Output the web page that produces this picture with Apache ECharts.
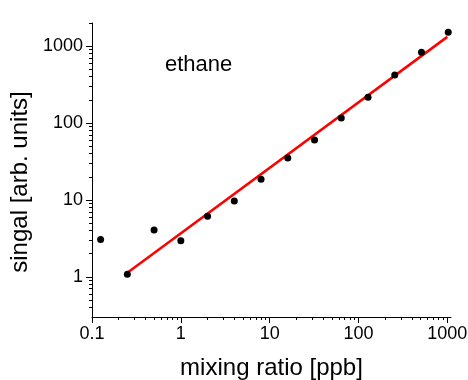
<!DOCTYPE html>
<html>
<head>
<meta charset="utf-8">
<script src="https://cdn.jsdelivr.net/npm/echarts@6/dist/echarts.min.js"></script>
<style>html,body{margin:0;padding:0;background:#fff}#c{width:468px;height:380px}</style>
</head>
<body>
<div id="c"></div>
<script>
// Data
var mixingRatio = [0.125, 0.25, 0.5, 1, 2, 4, 8, 16, 32, 64, 128, 256, 512, 1024];
var signal = [3.06, 1.08, 4.05, 2.94, 6.15, 9.65, 18.6, 35, 60, 116, 217, 420, 836, 1520];
var fitX = [0.25, 1000];
var fitY = [1.13, 1320];
var xMajorTicks = [0.1, 1, 10, 100, 1000];
var yMajorTicks = [1, 10, 100, 1000];
var xMinorTicks = [0.2,0.3,0.4,0.5,0.6,0.7,0.8,0.9,2,3,4,5,6,7,8,9,20,30,40,50,60,70,80,90,200,300,400,500,600,700,800,900];
var yMinorTicks = [0.4,0.5,0.6,0.7,0.8,0.9,2,3,4,5,6,7,8,9,20,30,40,50,60,70,80,90,200,300,400,500,600,700,800,900,2000];
var xRange = [0.1, 1100];
var yRange = [0.3, 2000];

var font = 'Liberation Sans, Arial, sans-serif';
function fmt(v){ return String(+(+v).toPrecision(6)); }

var chart = echarts.init(document.getElementById('c'), null, {renderer: 'canvas'});
var axisLineStyle = {color: '#000', width: 1};
chart.setOption({
  animation: false,
  backgroundColor: '#fff',
  grid: {left: 92, right: 17, top: 23, bottom: 63, outerBoundsMode: 'none'},
  graphic: [{
    type: 'text', left: 165, top: 54,
    style: {text: 'ethane', font: '22px ' + font, fill: '#000'}
  }],
  xAxis: [{
    type: 'log', logBase: 10, min: xRange[0], max: xRange[1],
    name: 'mixing ratio [ppb]', nameLocation: 'middle', nameGap: 39,
    nameTextStyle: {fontSize: 24, fontFamily: font, color: '#000'},
    axisLine: {lineStyle: axisLineStyle},
    axisTick: {show: true, length: 6, lineStyle: {color: '#000'}, customValues: xMajorTicks},
    axisLabel: {fontSize: 18, fontFamily: font, color: '#000', margin: 8, customValues: xMajorTicks, formatter: fmt},
    splitLine: {show: false}, minorTick: {show: false}
  }, {
    type: 'log', logBase: 10, min: xRange[0], max: xRange[1], position: 'bottom',
    axisLine: {show: false},
    axisTick: {show: true, length: 3, lineStyle: {color: '#000'}, customValues: xMinorTicks},
    axisLabel: {show: false}, splitLine: {show: false}
  }],
  yAxis: [{
    type: 'log', logBase: 10, min: yRange[0], max: yRange[1],
    name: 'singal [arb. units]', nameLocation: 'middle', nameGap: 59,
    nameTextStyle: {fontSize: 24, fontFamily: font, color: '#000', padding: [0, 24, 0, 0]},
    axisLine: {lineStyle: axisLineStyle},
    axisTick: {show: true, length: 6, lineStyle: {color: '#000'}, customValues: yMajorTicks},
    axisLabel: {fontSize: 18, fontFamily: font, color: '#000', margin: 9, customValues: yMajorTicks, formatter: fmt},
    splitLine: {show: false}, minorTick: {show: false}
  }, {
    type: 'log', logBase: 10, min: yRange[0], max: yRange[1], position: 'left',
    axisLine: {show: false},
    axisTick: {show: true, length: 3, lineStyle: {color: '#000'}, customValues: yMinorTicks},
    axisLabel: {show: false}, splitLine: {show: false}
  }],
  series: [{
    type: 'line', xAxisIndex: 0, yAxisIndex: 0,
    data: fitX.map(function(x, i){ return [x, fitY[i]]; }),
    showSymbol: false, symbol: 'none',
    lineStyle: {color: '#ff0000', width: 2.5}, z: 2
  }, {
    type: 'scatter', xAxisIndex: 0, yAxisIndex: 0,
    data: mixingRatio.map(function(x, i){ return [x, signal[i]]; }),
    symbol: 'circle', symbolSize: 7,
    itemStyle: {color: '#000', opacity: 1}, z: 3
  }]
});
</script>
</body>
</html>
